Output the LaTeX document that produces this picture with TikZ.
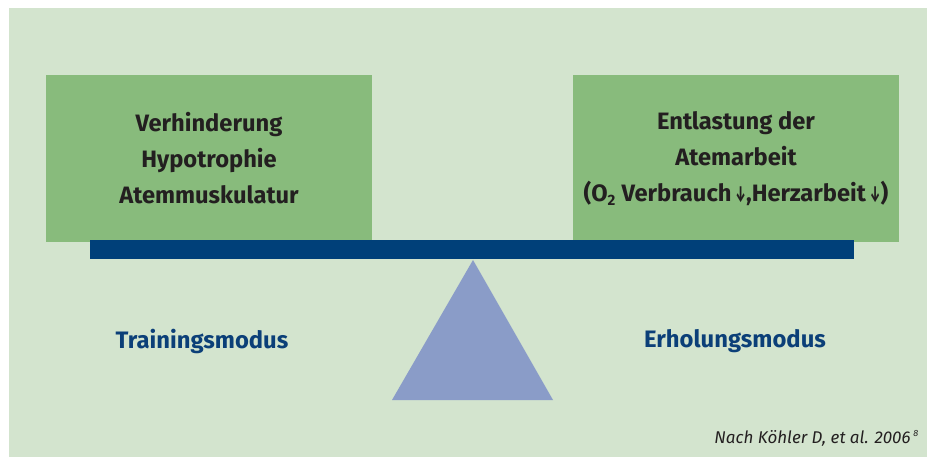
\documentclass[tikz,border=0pt]{standalone}
\usepackage{fontspec}
\usepackage{graphicx}
\setmainfont{Fira Sans}
\definecolor{bgc}{HTML}{D3E4CE}
\definecolor{boxc}{HTML}{88BB7C}
\definecolor{beamc}{HTML}{004079}
\definecolor{tric}{HTML}{8A9CC8}
\definecolor{labc}{HTML}{0B3F78}
\definecolor{txtc}{HTML}{231F20}
\newcommand{\thindown}{\,\scalebox{0.5}[0.95]{↓}}
\tikzset{
  greenbox/.style={fill=boxc, draw=none, minimum width=326pt, minimum height=167pt, inner sep=0pt,
    align=center, text=txtc, font=\fontsize{23.7}{36}\selectfont\bfseries},
  modelabel/.style={text=labc, font=\fontsize{23.8}{28}\selectfont\bfseries, inner sep=0pt},
}
\begin{document}
\begin{tikzpicture}[x=1pt,y=-1pt]
\useasboundingbox (0,0) rectangle (927,457);
\fill[bgc] (9,8) rectangle (927,457);
\node[greenbox] (left) at (209,158.5) {Verhinderung\\Hypotrophie\\Atemmuskulatur};
\node[greenbox] (right) at (736,158.5) {Entlastung der\\Atemarbeit\\(O\textsubscript{\fontsize{15}{16}\selectfont 2} Verbrauch\thindown,Herzarbeit\thindown)};
\fill[beamc] (90,240) rectangle (854,259);
\coordinate (apex) at (473,260);
\coordinate (bl) at (392,400);
\coordinate (br) at (553,400);
\fill[tric] (apex) -- (br) -- (bl) -- cycle;
\node[modelabel] (train) at (202,341) {Trainingsmodus};
\node[modelabel] (erh) at (735,341) {Erholungsmodus};
\node[anchor=base east, inner sep=0pt, text=txtc, font=\fontsize{17}{20}\selectfont\itshape] (cite) at (919,443) {Nach Köhler D, et al. 2006\,\textsuperscript{\fontsize{9}{10}\selectfont 8}};
\end{tikzpicture}
\end{document}
